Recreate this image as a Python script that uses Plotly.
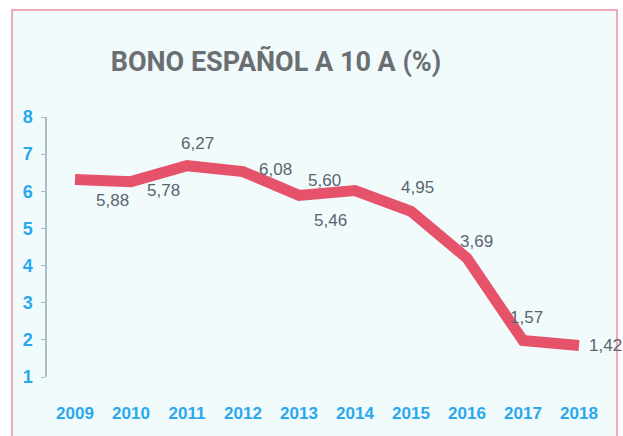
import plotly.graph_objects as go

# Data
years = ["2009", "2010", "2011", "2012", "2013", "2014", "2015", "2016", "2017", "2018"]
line_values = [6.32, 6.26, 6.69, 6.53, 5.89, 6.02, 5.46, 4.20, 1.98, 1.85]
label_texts = ["5,88", "5,78", "6,27", "6,08", "5,60", "5,46", "4,95", "3,69", "1,57", "1,42"]
y_ticks = [1, 2, 3, 4, 5, 6, 7, 8]

# Label offsets in pixels (style, not data)
label_dx = [37, 32, 10, 32, 25, -25, 6, 9, 3, 26]
label_dy = [-21, -9, 22, 2, 15, -30, 24, 17, 23, 0]

fig = go.Figure()
fig.add_trace(go.Scatter(
    x=years, y=line_values, mode="lines",
    line=dict(color="#e5526a", width=11),
    hoverinfo="skip", showlegend=False,
))

for i, (v, t, dx, dy) in enumerate(zip(line_values, label_texts, label_dx, label_dy)):
    fig.add_annotation(x=i, y=v, xref="x", yref="y", text=t, showarrow=False,
                       xshift=dx, yshift=dy,
                       font=dict(family="Liberation Sans, Arial, sans-serif",
                                 size=17, color="#5a6470"))

L, T, W, H = 47, 117, 560, 260
def px(x):
    return (x - L) / W
def py(y):
    return (T + H - y) / H

fig.add_shape(type="rect", xref="paper", yref="paper",
              x0=px(12), x1=px(617), y0=py(10), y1=py(440),
              fillcolor="#f2fbfc", line=dict(color="#f0a9b8", width=2),
              layer="below")

fig.update_layout(
    width=623, height=436,
    margin=dict(l=L, r=623 - L - W, t=T, b=436 - T - H),
    paper_bgcolor="white", plot_bgcolor="rgba(0,0,0,0)",
    title=dict(text="<b>BONO ESPAÑOL A 10 A (%)</b>", x=(276 - L) / W, xref="paper",
               y=1 - 62 / 436, yanchor="middle", xanchor="center",
               font=dict(family="Roboto, Liberation Sans, sans-serif",
                         size=27, color="#6b6f73")),
    xaxis=dict(type="category", range=[-0.5, 9.5], showgrid=False, zeroline=False,
               showline=False, ticks="",
               tickfont=dict(family="Liberation Sans, Arial, sans-serif", size=17,
                             color="#2aa8ee", weight="bold"),
               ticklabelstandoff=24),
    yaxis=dict(range=[1, 8], tickvals=y_ticks, showgrid=False, zeroline=False,
               showline=True, linecolor="#a9bcc8", linewidth=1.5,
               ticks="outside", ticklen=4, tickcolor="#a9bcc8",
               tickfont=dict(family="Liberation Sans, Arial, sans-serif", size=18,
                             color="#2aa8ee", weight="bold"),
               ticklabelstandoff=5),
)

fig.write_html("out.html", config={"displayModeBar": False},
               post_script="document.body.style.margin='0';document.body.style.padding='0';")
